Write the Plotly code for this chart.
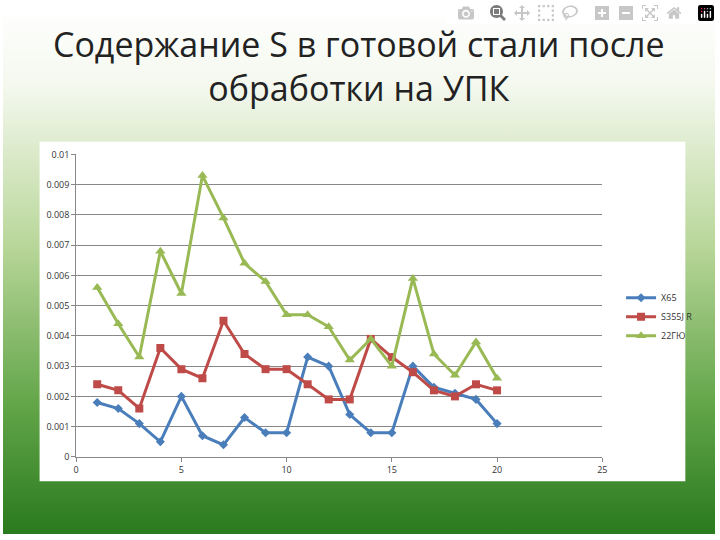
import plotly.graph_objects as go
import base64

x = list(range(1, 21))
x65 = [1.8,1.6,1.1,0.5,2.0,0.7,0.4,1.3,0.8,0.8,3.3,3.0,1.4,0.8,0.8,3.0,2.3,2.1,1.9,1.1]
s355 = [2.4,2.2,1.6,3.6,2.9,2.6,4.5,3.4,2.9,2.9,2.4,1.9,1.9,3.9,3.3,2.8,2.2,2.0,2.4,2.2]
g22 = [5.6,4.4,3.3,6.8,5.4,9.3,7.9,6.4,5.8,4.7,4.7,4.3,3.2,3.9,3.0,5.9,3.4,2.7,3.8,2.6]
names = ["X65", "S355J R", "22ГЮ"]
yticks = [0,0.001,0.002,0.003,0.004,0.005,0.006,0.007,0.008,0.009,0.01]
ytext = ["0","0.001","0.002","0.003","0.004","0.005","0.006","0.007","0.008","0.009","0.01"]

W, H = 720, 540
def px(v): return v / W
def py(v): return 1 - v / H

fig = go.Figure()
styles = [("#4a7ebb", "diamond", 7), ("#be4b48", "square", 8), ("#98b954", "triangle-up", 9)]
for name, vals, (c, sym, sz) in zip(names, [x65, s355, g22], styles):
    fig.add_trace(go.Scatter(x=x, y=[v / 1000 for v in vals], name=name, mode="lines+markers",
                             line=dict(color=c, width=3), marker=dict(color=c, symbol=sym, size=sz)))

svg = ('<svg xmlns="http://www.w3.org/2000/svg" width="720" height="540" preserveAspectRatio="none">'
       '<defs><linearGradient id="g" x1="0" y1="0" x2="0" y2="1">'
       '<stop offset="0" stop-color="#ffffff"/><stop offset="0.15" stop-color="#f4f8ee"/>'
       '<stop offset="0.45" stop-color="#b9d79a"/><stop offset="0.75" stop-color="#64a64a"/>'
       '<stop offset="1" stop-color="#2a7a1e"/></linearGradient></defs>'
       '<rect width="720" height="540" fill="url(#g)"/></svg>')
uri = "data:image/svg+xml;base64," + base64.b64encode(svg.encode()).decode()

fig.update_layout(
    width=W, height=H, margin=dict(l=0, r=0, t=0, b=0),
    paper_bgcolor="white", plot_bgcolor="white",
    font=dict(family="Open Sans", size=9, color="#333"),
    images=[dict(source=uri, xref="paper", yref="paper", x=0, y=1, sizex=1, sizey=1,
                 sizing="stretch", layer="below")],
    shapes=[dict(type="rect", xref="paper", yref="paper", x0=px(37), x1=px(690), y0=py(486), y1=py(138),
                 fillcolor="white", line=dict(width=0), layer="below")],
    annotations=[dict(text="Содержание S в готовой стали после<br>обработки на УПК", xref="paper", yref="paper",
                      x=0.5, y=py(12), yanchor="top", showarrow=False,
                      font=dict(family="Open Sans", size=34, color="#222"))],
    xaxis=dict(domain=[px(74), px(606)], range=[0, 25], tickvals=[0,5,10,15,20,25],
               showgrid=False, zeroline=False, showline=True, linecolor="#888", ticks="outside",
               ticklen=4, tickcolor="#888"),
    yaxis=dict(domain=[py(461), py(151)], range=[0, 0.01], tickvals=yticks, ticktext=ytext,
               showgrid=True, gridcolor="#888", zeroline=False, showline=True, linecolor="#888",
               ticks="outside", ticklen=4, tickcolor="#888"),
    legend=dict(x=px(625), y=py(283), xanchor="left", yanchor="top", bgcolor="rgba(0,0,0,0)",
                font=dict(size=9), tracegroupgap=4),
)
fig.write_html("out.html", post_script="document.body.style.margin='0';document.body.style.overflow='hidden';")
